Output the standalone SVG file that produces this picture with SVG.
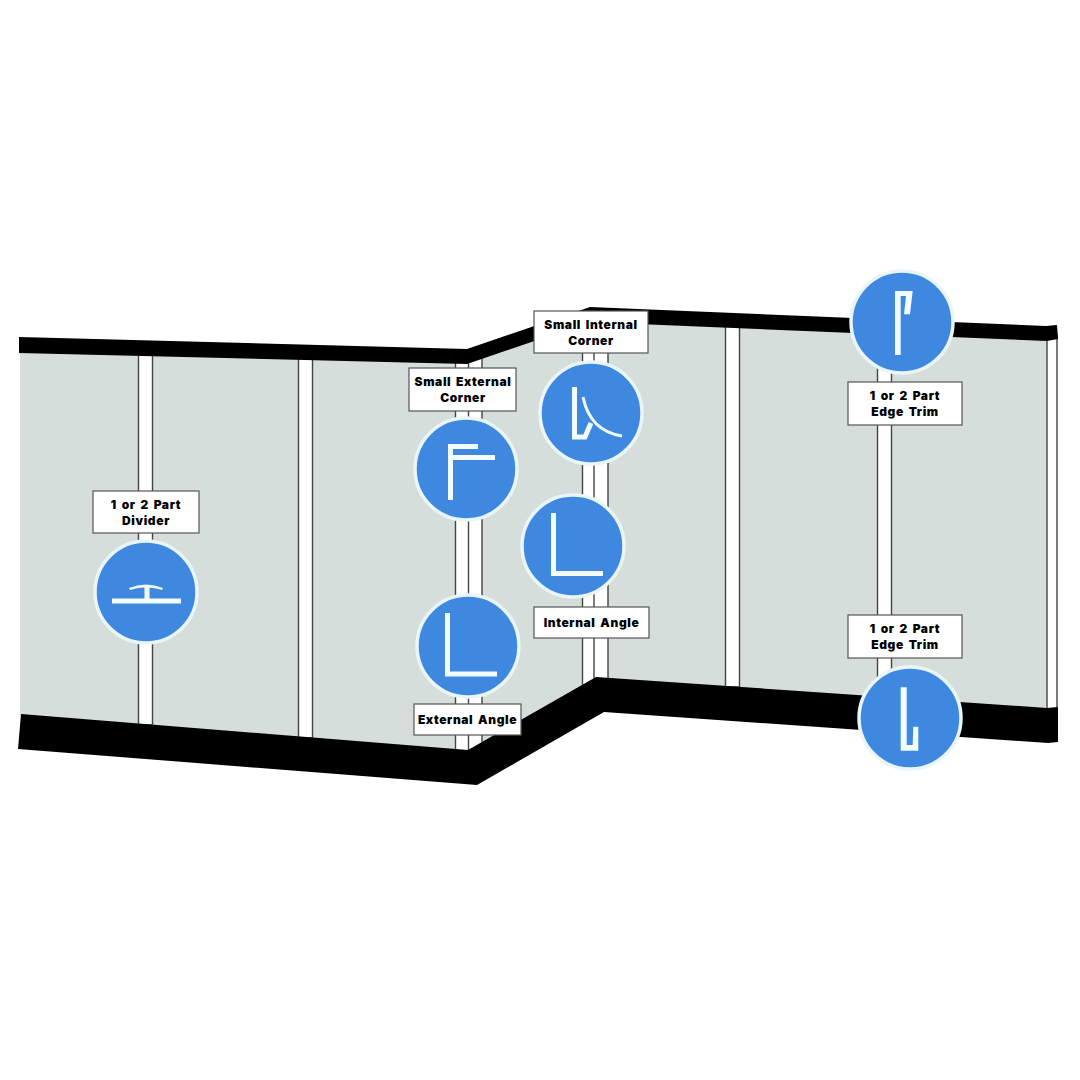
<svg xmlns="http://www.w3.org/2000/svg" width="1080" height="1080" viewBox="0 0 1080 1080">
<style>
.strip{fill:#fff;stroke:#444;stroke-width:1.4}
.split{fill:none;stroke:#444;stroke-width:1.4}
.band{fill:#000}
.disc{fill:#3e88e0;stroke:#eaf5fa;stroke-width:3.500}
.g{fill:none;stroke:#f2fbff;stroke-width:5;stroke-linejoin:miter}
.thin{stroke-width:3}
.f{fill:#f2fbff}
.box{fill:#fff;stroke:#555;stroke-width:1.2}
.t{font-family:"Inter","Liberation Sans",sans-serif;font-weight:900;font-size:12px;letter-spacing:.62px;word-spacing:1.8px;fill:#000;text-anchor:middle}
</style>
<rect width="1080" height="1080" fill="#fff"/>
<g id="wall">
<polygon points="20,350 467,362 590,319 1050,339 1050,710 596,680 468,752 20,716" fill="#d6dedb"/>
</g>
<g id="connectors">
<rect class="strip" x="138.500" y="350" width="14" height="375"/>
<rect class="strip" x="298.500" y="354" width="14" height="384"/>
<rect class="strip" x="455.500" y="354" width="26.500" height="397"/>
<path class="split" d="M468.500 354V751"/>
<rect class="strip" x="582.500" y="315" width="25.500" height="371"/>
<path class="split" d="M594 315V686"/>
<rect class="strip" x="725.500" y="320" width="14" height="367"/>
<rect class="strip" x="877.500" y="325" width="14" height="377"/>
<rect class="strip" x="1047" y="335" width="10" height="374"/>
</g>
<g id="bands">
<polygon class="band" points="19,337 467,349 590,307 1046,326 1057,325 1058,339 1047,341 590,322 467,364 19,353"/>
<polygon class="band" points="21,714 468,750 596,677 1047,708 1058,707 1058,742 1048,743 604,712 477,785 18,749"/>
</g>
<g id="divider">
<rect class="box" x="93" y="491" width="106" height="42"/>
<text class="t" x="146" y="509">1 or 2 Part</text>
<text class="t" x="146" y="525">Divider</text>
<circle class="disc" cx="146" cy="592" r="51"/>
<path class="g" d="M112 601H181M147 599V587"/>
<path class="f" d="M129 588Q146 581 163 588L162 590Q154 587 146 587.500Q138 587 130 590Z"/>
</g>
<g id="small-external">
<rect class="box" x="409" y="368" width="107" height="43"/>
<text class="t" x="463" y="386">Small External</text>
<text class="t" x="463" y="402">Corner</text>
<circle class="disc" cx="466" cy="469" r="51"/>
<path class="g" d="M450.500 500V446.500H478M451 457.500H495"/>
</g>
<g id="external-angle">
<circle class="disc" cx="468" cy="646" r="51"/>
<path class="g" d="M447.500 613V674H497"/>
<rect class="box" x="414" y="704" width="107" height="31"/>
<text class="t" x="467.500" y="724">External Angle</text>
</g>
<g id="small-internal">
<rect class="box" x="534" y="311" width="114" height="42"/>
<text class="t" x="591" y="329">Small Internal</text>
<text class="t" x="591" y="345">Corner</text>
<circle class="disc" cx="591" cy="413" r="51"/>
<path class="g" d="M574.500 387V437H585L591 423"/>
<path class="g thin" d="M583 397Q590 431 622 436"/>
</g>
<g id="internal-angle">
<circle class="disc" cx="573" cy="546" r="51"/>
<path class="g" d="M553.500 513V573.500H603"/>
<rect class="box" x="534" y="607" width="115" height="31"/>
<text class="t" x="591.500" y="627">Internal Angle</text>
</g>
<g id="edge-trim-top">
<circle class="disc" cx="902" cy="322" r="51"/>
<polygon class="f" points="895,291 912.700,291 910,314.300 904,314.300 906,296 900.700,296 900.700,355 895,355"/>
<rect class="box" x="848" y="382" width="114" height="43"/>
<text class="t" x="905" y="400">1 or 2 Part</text>
<text class="t" x="905" y="416">Edge Trim</text>
</g>
<g id="edge-trim-bottom">
<rect class="box" x="848" y="615" width="114" height="43"/>
<text class="t" x="905" y="633">1 or 2 Part</text>
<text class="t" x="905" y="649">Edge Trim</text>
<circle class="disc" cx="910" cy="718" r="51"/>
<polygon class="f" points="900.700,687.300 906.700,687.300 906.700,745 912.700,745 913.300,726.700 918.300,726.700 918.300,750.700 900.700,750.700"/>
</g>
</svg>
